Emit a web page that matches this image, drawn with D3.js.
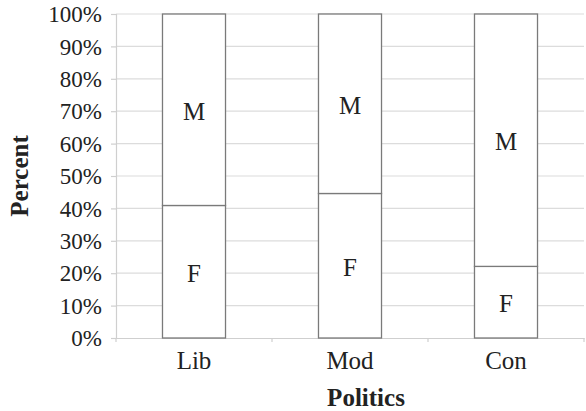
<!DOCTYPE html>
<html>
<head>
<meta charset="utf-8">
<script src="https://cdn.jsdelivr.net/npm/d3@7"></script>
<style>
  body { margin: 0; background: #fff; }
  svg text { font-family: "Liberation Serif", serif; fill: #222; }
</style>
</head>
<body>
<div id="viz"></div>
<script>
// data
const categories = ["Lib", "Mod", "Con"];
const femalePct = [40.9, 44.6, 22.1];
const malePct = [59.1, 55.4, 77.9];
const yTicks = [0, 10, 20, 30, 40, 50, 60, 70, 80, 90, 100];

const width = 586, height = 411;
const margin = {left: 116, right: 2, top: 14, bottom: 73};

const svg = d3.select("#viz")
    .append("svg")
    .attr("width", width)
    .attr("height", height);

const x = d3.scaleBand()
    .domain(categories)
    .range([margin.left, width - margin.right])
    .padding(0);

const y = d3.scaleLinear()
    .domain([0, 100])
    .range([height - margin.bottom, margin.top]);

const barW = x.bandwidth() * 0.404;

// gridlines
svg.append("g")
    .selectAll("line")
    .data(yTicks.slice(1))
    .join("line")
    .attr("x1", margin.left)
    .attr("x2", width - margin.right)
    .attr("y1", d => y(d))
    .attr("y2", d => y(d))
    .attr("stroke", "#dcdcdc")
    .attr("stroke-width", 1.2);

// y axis (line + ticks from d3, labels as plain text)
const gy = svg.append("g")
    .attr("transform", `translate(${margin.left},0)`)
    .call(d3.axisLeft(y).tickValues(yTicks).tickSize(5).tickFormat(""));
gy.select(".domain").attr("stroke", "#cfcfcf").attr("stroke-width", 1.2);
gy.selectAll(".tick line").attr("stroke", "#cfcfcf").attr("stroke-width", 1.2);

svg.append("g")
    .selectAll("text")
    .data(yTicks)
    .join("text")
    .attr("x", margin.left - 14)
    .attr("y", d => y(d))
    .attr("dy", "0.36em")
    .attr("text-anchor", "end")
    .attr("font-size", 23)
    .text(d => d + "%");

// x axis
const gx = svg.append("g")
    .attr("transform", `translate(0,${y(0)})`)
    .call(d3.axisBottom(x).tickSize(0).tickFormat(""));
gx.select(".domain").attr("stroke", "#cfcfcf").attr("stroke-width", 1.2);

svg.append("g")
    .selectAll("text")
    .data(categories)
    .join("text")
    .attr("x", d => x(d) + x.bandwidth() / 2)
    .attr("y", y(0) + 31)
    .attr("text-anchor", "middle")
    .attr("font-size", 25)
    .text(d => d);

// small tick marks between categories
const boundaries = categories.map(c => x(c)).concat([x(categories[categories.length - 1]) + x.bandwidth()]);
svg.append("g")
    .selectAll("line")
    .data(boundaries)
    .join("line")
    .attr("x1", d => d)
    .attr("x2", d => d)
    .attr("y1", y(0))
    .attr("y2", y(0) + 4)
    .attr("stroke", "#cfcfcf")
    .attr("stroke-width", 1.2);

// stacked bars
const stacks = categories.map((c, i) => ({
  cat: c,
  segs: [
    {label: "F", y0: 0, y1: femalePct[i]},
    {label: "M", y0: femalePct[i], y1: femalePct[i] + malePct[i]}
  ]
}));

const barG = svg.append("g")
    .selectAll("g")
    .data(stacks)
    .join("g")
    .attr("transform", d => `translate(${x(d.cat) + (x.bandwidth() - barW) / 2},0)`);

barG.selectAll("rect")
    .data(d => d.segs)
    .join("rect")
    .attr("x", 0)
    .attr("width", barW)
    .attr("y", d => y(d.y1))
    .attr("height", d => y(d.y0) - y(d.y1))
    .attr("fill", "#fff")
    .attr("stroke", "#7a7a7a")
    .attr("stroke-width", 1.3);

barG.selectAll("text")
    .data(d => d.segs)
    .join("text")
    .attr("x", barW / 2)
    .attr("y", d => y((d.y0 + d.y1) / 2))
    .attr("dy", "0.4em")
    .attr("text-anchor", "middle")
    .attr("font-size", 25)
    .text(d => d.label);

// axis titles
svg.append("text")
    .attr("x", 366)
    .attr("y", 406)
    .attr("text-anchor", "middle")
    .attr("font-size", 25)
    .attr("font-weight", "bold")
    .text("Politics");

svg.append("text")
    .attr("transform", `translate(28,${(y(0) + y(100)) / 2}) rotate(-90)`)
    .attr("text-anchor", "middle")
    .attr("font-size", 25)
    .attr("font-weight", "bold")
    .text("Percent");
</script>
</body>
</html>
